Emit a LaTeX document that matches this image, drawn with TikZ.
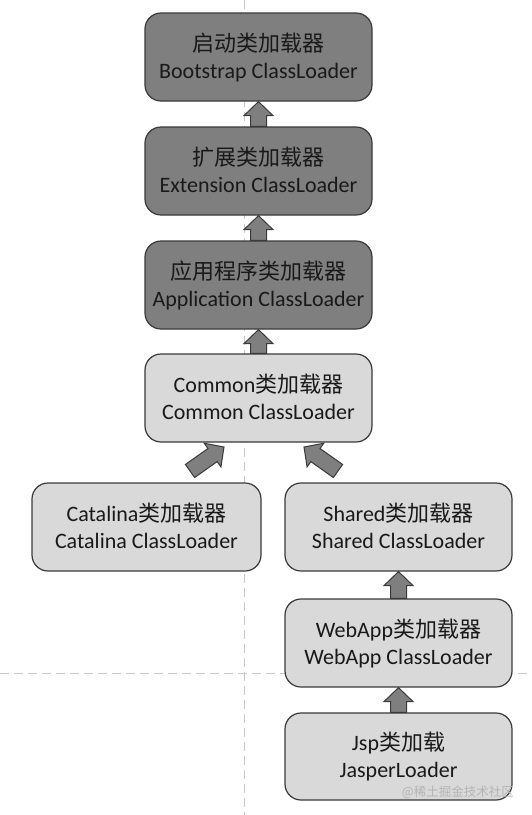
\documentclass[tikz,border=0pt]{standalone}
\usepackage{fontspec}
\setmainfont{Carlito}
\newfontfamily\cjk{Noto Sans CJK SC}
\usetikzlibrary{calc}
\definecolor{darkbox}{HTML}{7F7F7F}
\definecolor{lightbox}{HTML}{D9D9D9}
\definecolor{edgecol}{HTML}{3A3A3A}
\definecolor{guide}{HTML}{C8C8C8}
\definecolor{wmcol}{HTML}{B4B4B4}
\newcommand\lnstrut{\rule[-6pt]{0pt}{27pt}}
\begin{document}
\begin{tikzpicture}[x=1pt,y=-1pt,
  loader/.style={draw=edgecol, line width=1.2pt, rounded corners=16pt,
    minimum width=227pt, minimum height=88pt, inner sep=1pt, align=center,
    font=\fontsize{22}{27}\selectfont, text=black!90},
  darkloader/.style={loader, fill=darkbox},
  lightloader/.style={loader, fill=lightbox},
  guideline/.style={draw=guide, line width=0.9pt, dash pattern=on 9pt off 5pt},
  blockarrow/.style={draw=edgecol, fill=darkbox, line width=1pt, line join=miter,
    to path={
      ($(\tikztostart)!8pt!90:(\tikztotarget)$)
      -- ($($(\tikztotarget)!14pt!(\tikztostart)$)!8pt!90:(\tikztotarget)$)
      -- ($($(\tikztotarget)!14pt!(\tikztostart)$)!14.5pt!90:(\tikztotarget)$)
      -- (\tikztotarget)
      -- ($($(\tikztotarget)!14pt!(\tikztostart)$)!14.5pt!-90:(\tikztotarget)$)
      -- ($($(\tikztotarget)!14pt!(\tikztostart)$)!8pt!-90:(\tikztotarget)$)
      -- ($(\tikztostart)!8pt!-90:(\tikztotarget)$)
      -- cycle}},
  watermark/.style={font=\cjk\fontsize{12.5}{13}\selectfont, text=wmcol, inner sep=0pt}
]
\fill[white] (0,0) rectangle (531,815);
\useasboundingbox (0,0) rectangle (531,815);

% guide lines
\coordinate (vtop) at (244,0);
\coordinate (vbot) at (244,815);
\coordinate (hleft) at (0,673);
\coordinate (hright) at (531,673);
\draw[guideline] (vtop) -- (vbot);
\draw[guideline] (hleft) -- (hright);

% loaders
\node[darkloader] (boot) at (258.5,57) {\lnstrut{\cjk 启动类加载器}\\\lnstrut Bootstrap ClassLoader};
\node[darkloader] (ext) at (258.5,171) {\lnstrut{\cjk 扩展类加载器}\\\lnstrut Extension ClassLoader};
\node[darkloader] (app) at (258.5,285) {\lnstrut{\cjk 应用程序类加载器}\\\lnstrut Application ClassLoader};
\node[lightloader] (common) at (258.5,398) {\lnstrut Common{\cjk 类加载器}\\\lnstrut Common ClassLoader};
\node[lightloader, minimum width=229pt] (catalina) at (146.5,527) {\lnstrut Catalina{\cjk 类加载器}\\\lnstrut Catalina ClassLoader};
\node[lightloader] (shared) at (398.5,527) {\lnstrut Shared{\cjk 类加载器}\\\lnstrut Shared ClassLoader};
\node[lightloader] (webapp) at (398.5,643) {\lnstrut WebApp{\cjk 类加载器}\\\lnstrut WebApp ClassLoader};
\node[lightloader, minimum height=87pt] (jsp) at (398.5,756.5) {\lnstrut Jsp{\cjk 类加载}\\\lnstrut JasperLoader};

% arrows
\draw[blockarrow] (ext.north) to (boot.south);
\draw[blockarrow] (app.north) to (ext.south);
\draw[blockarrow] (common.north) to (app.south);
\coordinate (catail) at (190,471);
\coordinate (catip) at (224,447);
\coordinate (shtail) at (338,471);
\coordinate (shtip) at (304,447);
\draw[blockarrow] (catail) to (catip);
\draw[blockarrow] (shtail) to (shtip);
\draw[blockarrow] (webapp.north) to (shared.south);
\draw[blockarrow] (jsp.north) to (webapp.south);

% watermark
\node[watermark, anchor=east] (wmark) at (514,792) {@稀土掘金技术社区};
\end{tikzpicture}
\end{document}
